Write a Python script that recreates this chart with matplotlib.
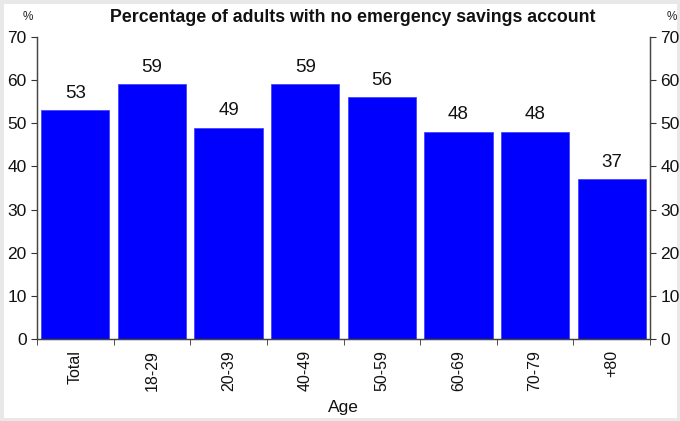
import numpy as np
import matplotlib.pyplot as plt
from matplotlib.patches import Rectangle

plt.rcParams['font.family'] = ['Liberation Sans', 'DejaVu Sans']

categorias = ["Total", "18-29", "20-39", "40-49", "50-59", "60-69", "70-79", "+80"]
valores = [53, 59, 49, 59, 56, 48, 48, 37]
yticks = [0, 10, 20, 30, 40, 50, 60, 70]

fig = plt.figure(figsize=(6.8, 4.21), dpi=100, facecolor="white")
ax = fig.add_axes([37/680, 1 - 339/421, (650-37)/680, (339-37)/421])

x = np.arange(len(categorias))
ax.bar(x, valores, width=0.89, color="#0000FF", edgecolor="#3a3aff", linewidth=0.5, zorder=2)

for xi, v in zip(x, valores):
    ax.text(xi, v + 2.0, str(v), ha="center", va="bottom", fontsize=13.5, color="#111111")

ax.set_xlim(-0.5, len(categorias) - 0.5)
ax.set_ylim(0, 70)
ax.set_yticks(yticks)
ax.tick_params(axis="y", labelsize=12.5, length=4, direction="out", colors="#333333", labelcolor="#111111")

# etiquetas de categoria centradas, ticks en los bordes
ax.set_xticks(x)
ax.set_xticklabels(categorias, rotation=90, fontsize=11.5, color="#111111")
ax.tick_params(axis="x", length=0, pad=8)
ax.set_xticks(np.arange(len(categorias) + 1) - 0.5, minor=True)
ax.tick_params(axis="x", which="minor", length=4, direction="out", colors="#333333")

ax2 = ax.twinx()
ax2.set_ylim(0, 70)
ax2.set_yticks(yticks)
ax2.tick_params(axis="y", labelsize=12.5, length=4, direction="out", colors="#333333", labelcolor="#111111")

for a in (ax, ax2):
    a.spines["top"].set_visible(False)
    for s in ("left", "right", "bottom"):
        a.spines[s].set_color("#444444")
        a.spines[s].set_linewidth(0.9)

ax.set_xlabel("Age", fontsize=12.5, color="#111111", labelpad=6)

fig.text(353/680, 1 - 17/421, "Percentage of adults with no emergency savings account",
         ha="center", va="center", fontsize=12.8, fontweight="bold", color="#111111")
fig.text(28/680, 1 - 17/421, "%", ha="center", va="center", fontsize=8.5, color="#222222")
fig.text(672/680, 1 - 17/421, "%", ha="center", va="center", fontsize=8.5, color="#222222")

# marco gris claro alrededor
fig.patches.append(Rectangle((0, 0), 1, 1, transform=fig.transFigure, fill=False,
                             edgecolor="#e8e8e8", linewidth=5, zorder=-1))

fig.savefig("out.png", dpi=100, facecolor="white")
